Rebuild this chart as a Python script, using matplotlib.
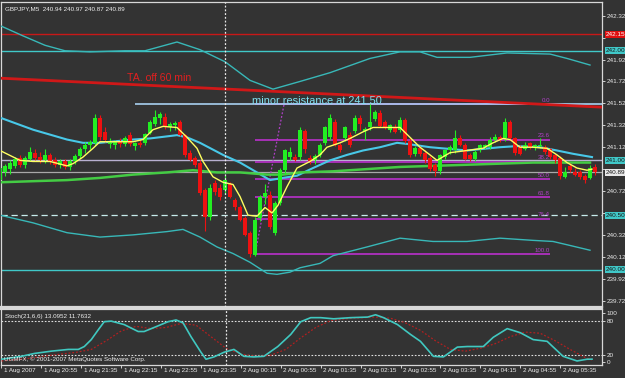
import matplotlib
matplotlib.use('Agg')
import matplotlib.pyplot as plt
import matplotlib.transforms as mtrans

plt.rcParams['font.family'] = ['Liberation Sans', 'DejaVu Sans']

# ---------------- data ----------------
title = "GBPJPY,M5  240.94 240.97 240.87 240.89"
opens = [240.82, 240.89, 240.92, 240.95, 241.02, 240.96, 241.01, 241.07, 241.03, 241.00,
         241.05, 241.00, 240.96, 240.99, 240.94, 240.99, 241.04, 241.10, 241.14, 241.16,
         241.39, 241.26, 241.15, 241.14, 241.17, 241.15, 241.23, 241.13, 241.16, 241.16,
         241.25, 241.33, 241.39, 241.40, 241.30, 241.32, 241.35, 241.23, 241.07, 241.02,
         240.98, 240.73, 240.48, 240.79, 240.75, 240.73, 240.78, 240.64, 240.57, 240.47,
         240.34, 240.14, 240.47, 240.67, 240.68, 240.34, 240.61, 240.91, 241.03, 241.03,
         241.03, 241.27, 241.02, 241.00, 241.05, 241.16, 241.21, 241.35, 241.14, 241.20,
         241.23, 241.27, 241.39, 241.27, 241.30, 241.38, 241.43, 241.35, 241.28, 241.30,
         241.28, 241.37, 241.18, 241.06, 241.11, 241.07, 241.02, 240.96, 240.90, 241.03,
         241.09, 241.09, 241.20, 241.14, 241.05, 241.01, 241.10, 241.12, 241.12, 241.19,
         241.21, 241.20, 241.35, 241.20, 241.12, 241.10, 241.16, 241.11, 241.13, 241.12,
         241.10, 241.05, 241.02, 240.85, 240.95, 240.89, 240.89, 240.86, 240.84, 240.94]
highs = [240.95, 240.97, 241.00, 241.03, 241.05, 241.04, 241.12, 241.10, 241.08, 241.10,
         241.07, 241.03, 241.01, 241.01, 241.01, 241.06, 241.12, 241.17, 241.19, 241.42,
         241.41, 241.30, 241.20, 241.19, 241.20, 241.22, 241.26, 241.17, 241.19, 241.25,
         241.37, 241.46, 241.44, 241.43, 241.35, 241.36, 241.37, 241.24, 241.09, 241.04,
         241.00, 240.75, 240.78, 240.82, 240.78, 240.87, 240.80, 240.66, 240.59, 240.49,
         240.36, 240.48, 240.68, 240.78, 240.72, 240.63, 240.93, 241.10, 241.12, 241.06,
         241.30, 241.29, 241.05, 241.06, 241.16, 241.31, 241.42, 241.38, 241.16, 241.31,
         241.26, 241.41, 241.41, 241.30, 241.51, 241.46, 241.46, 241.37, 241.33, 241.33,
         241.40, 241.39, 241.20, 241.13, 241.13, 241.09, 241.04, 240.98, 241.06, 241.10,
         241.14, 241.28, 241.23, 241.16, 241.07, 241.09, 241.15, 241.15, 241.21, 241.24,
         241.23, 241.39, 241.37, 241.21, 241.14, 241.17, 241.17, 241.15, 241.20, 241.14,
         241.11, 241.06, 241.04, 240.94, 240.98, 240.93, 240.91, 240.88, 240.96, 240.97]
lows = [240.80, 240.86, 240.88, 240.93, 240.94, 240.93, 240.99, 241.00, 240.98, 240.98,
        240.97, 240.94, 240.93, 240.92, 240.91, 240.97, 241.02, 241.07, 241.10, 241.14,
        241.19, 241.17, 241.11, 241.10, 241.12, 241.13, 241.13, 241.09, 241.12, 241.14,
        241.24, 241.31, 241.33, 241.29, 241.27, 241.28, 241.22, 241.03, 240.99, 240.94,
        240.68, 240.36, 240.46, 240.68, 240.64, 240.70, 240.66, 240.55, 240.45, 240.31,
        240.12, 240.13, 240.45, 240.60, 240.37, 240.32, 240.59, 240.88, 241.00, 240.99,
        241.00, 241.07, 240.97, 240.97, 241.03, 241.14, 241.19, 241.13, 241.08, 241.18,
        241.12, 241.25, 241.28, 241.19, 241.28, 241.36, 241.30, 241.29, 241.26, 241.25,
        241.26, 241.16, 241.03, 241.04, 241.04, 240.98, 240.90, 240.86, 240.88, 241.01,
        241.06, 241.07, 241.13, 241.00, 240.99, 240.99, 241.08, 241.10, 241.10, 241.17,
        241.17, 241.18, 241.19, 241.05, 241.05, 241.09, 241.10, 241.09, 241.11, 241.06,
        241.01, 240.98, 240.83, 240.84, 240.89, 240.86, 240.83, 240.79, 240.83, 240.87]
closes = [240.93, 240.95, 240.98, 241.01, 240.96, 241.02, 241.08, 241.02, 241.00, 241.05,
          240.99, 240.96, 240.99, 240.94, 240.99, 241.04, 241.10, 241.14, 241.17, 241.39,
          241.21, 241.19, 241.17, 241.17, 241.15, 241.20, 241.15, 241.16, 241.14, 241.24,
          241.35, 241.40, 241.42, 241.31, 241.33, 241.34, 241.23, 241.05, 241.00, 240.96,
          240.70, 240.48, 240.75, 240.71, 240.67, 240.82, 240.67, 240.57, 240.46, 240.32,
          240.15, 240.46, 240.67, 240.70, 240.39, 240.61, 240.91, 241.09, 241.08, 241.00,
          241.28, 241.10, 240.99, 241.04, 241.14, 241.30, 241.39, 241.14, 241.09, 241.30,
          241.14, 241.39, 241.33, 241.29, 241.35, 241.44, 241.31, 241.30, 241.32, 241.26,
          241.37, 241.18, 241.05, 241.11, 241.06, 241.00, 240.92, 240.90, 241.05, 241.09,
          241.12, 241.20, 241.14, 241.01, 241.01, 241.08, 241.14, 241.14, 241.19, 241.21,
          241.19, 241.35, 241.20, 241.07, 241.06, 241.14, 241.12, 241.14, 241.14, 241.08,
          241.03, 241.00, 240.86, 240.89, 240.91, 240.87, 240.85, 240.82, 240.93, 240.89]

# indicator lines (bar index, price)
ub_x = [0, 4.4, 9, 13, 18, 25, 29, 35.4, 40, 45, 50, 54.6, 60, 66, 74, 80, 84, 87.4, 94, 101.4, 110, 113.4, 118]
ub_y = [242.23, 242.14, 242.05, 242.00, 241.99, 242.00, 242.00, 242.08, 242.01, 241.90, 241.73, 241.65,
        241.72, 241.80, 241.93, 241.99, 241.99, 241.94, 241.94, 241.98, 241.97, 241.93, 241.87]
mid_x = [0, 6.6, 13.4, 16.6, 20, 26.6, 30, 35.4, 37.4, 40, 44.6, 48, 51.4, 54, 56.6, 59.4, 62.6, 66,
         69.4, 72.6, 76, 79.4, 81.4, 86, 93.4, 100, 103.4, 108, 111.4, 114.6, 118.4]
mid_y = [241.39, 241.28, 241.19, 241.16, 241.16, 241.19, 241.20, 241.23, 241.21, 241.16, 241.05, 240.98,
         240.89, 240.82, 240.84, 240.86, 240.93, 241.00, 241.05, 241.09, 241.12, 241.16, 241.15, 241.12,
         241.09, 241.12, 241.13, 241.12, 241.09, 241.06, 241.03]
lb_x = [0, 6.6, 13.4, 20, 26.6, 33.4, 36.6, 40, 43.4, 46.6, 50, 53.4, 55.4, 58, 60, 64, 66.6, 73.4,
        80, 86.6, 93.4, 100, 106.6, 110.6, 113.4, 118]
lb_y = [240.50, 240.43, 240.34, 240.30, 240.32, 240.35, 240.37, 240.30, 240.21, 240.15, 240.07, 239.97,
        239.96, 239.98, 240.02, 240.06, 240.13, 240.21, 240.29, 240.26, 240.26, 240.29, 240.27, 240.26,
        240.23, 240.18]
fast_x = [0, 4, 6.6, 10, 13.4, 14.6, 16.6, 18.6, 20, 23.4, 26.6, 28.6, 30.6, 32.6, 35.4, 37.4, 39.4,
          40.6, 42.6, 44.6, 46.6, 48, 49.6, 51.4, 53, 54.4, 55.6, 57.4, 59.4, 62, 64, 65.4, 68, 70,
          72.6, 74.6, 76.6, 80, 82, 84, 86, 87.4, 90, 93.4, 96.6, 98.6, 100.6, 102, 104, 106.6, 109.4,
          111.4, 113.4, 115.4, 117.4, 118.4]
fast_y = [241.09, 241.00, 240.99, 240.99, 240.95, 240.97, 241.03, 241.11, 241.17, 241.17, 241.17, 241.19,
          241.28, 241.31, 241.30, 241.21, 241.11, 240.99, 240.85, 240.80, 240.78, 240.67, 240.50, 240.49,
          240.57, 240.52, 240.59, 240.76, 240.93, 240.99, 241.05, 241.12, 241.16, 241.20, 241.26, 241.30,
          241.30, 241.30, 241.21, 241.12, 241.05, 241.00, 241.07, 241.09, 241.11, 241.16, 241.20, 241.19,
          241.12, 241.12, 241.11, 241.05, 240.98, 240.93, 240.91, 240.92]
slow_x = [0, 6.6, 13.4, 20, 26.6, 33.4, 38.6, 43.4, 48, 53.4, 56.6, 60, 66.6, 80, 93.4, 106.6, 118]
slow_y = [240.80, 240.81, 240.82, 240.84, 240.87, 240.89, 240.91, 240.89, 240.89, 240.87, 240.87, 240.89,
          240.90, 240.94, 240.96, 240.98, 240.98]

# stochastic (bar index, value)
st_x = [0, 4, 6.6, 10, 13.4, 15.4, 16.6, 18, 19.4, 20.6, 22, 24.6, 27.4, 28.6, 30.6, 33.4, 35, 36.4, 38,
        40, 41, 42.6, 44.6, 46.6, 48.6, 50.6, 52.6, 55.4, 58, 60, 62, 64, 66.6, 70, 73.4, 75, 76.6,
        79.4, 82, 84, 86.6, 88.6, 91.4, 93.4, 96.6, 98.6, 101.4, 104, 106.6, 109.4, 112.6, 115.4,
        117.4, 118.4]
st_main = [13, 18, 23, 27, 30, 30, 35, 47, 64, 78, 79, 73, 61, 61, 68, 78, 81, 76, 52, 25, 13, 17, 25,
           30, 18, 17, 18, 35, 56, 78, 85, 85, 83, 85, 86, 90, 85, 73, 56, 44, 18, 17, 34, 35, 35, 51,
           66, 59, 47, 44, 18, 10, 13, 13.1]
sg_x = [0, 5, 10, 15, 18, 21, 24, 27, 30, 33, 36, 39, 42, 45, 48, 51, 54, 57, 60, 63, 66, 70, 75, 78,
        81, 84, 87, 90, 93, 96, 99, 102, 105, 108, 111, 114, 117, 118.4]
st_sig = [10, 14, 20, 25, 30, 45, 62, 70, 66, 68, 75, 72, 52, 32, 22, 18, 20, 30, 50, 68, 80, 84, 86,
          84, 76, 63, 45, 30, 27, 32, 40, 52, 60, 58, 45, 30, 16, 11.8]

date_labels = ["1 Aug 2007", "1 Aug 20:55", "1 Aug 21:35", "1 Aug 22:15", "1 Aug 22:55",
               "1 Aug 23:35", "2 Aug 00:15", "2 Aug 00:55", "2 Aug 01:35", "2 Aug 02:15",
               "2 Aug 02:55", "2 Aug 03:35", "2 Aug 04:15", "2 Aug 04:55", "2 Aug 05:35"]
date_pos = [0, 8, 16, 24, 32, 40, 48, 56, 64, 72, 80, 88, 96, 104, 112]
price_ticks = [239.72, 239.92, 240.12, 240.32, 240.52, 240.72, 240.92, 241.12, 241.32, 241.52,
               241.72, 241.92, 242.12, 242.32]
hidden_ticks = [240.52, 240.92, 242.12]   # covered by the price-line labels

fib_levels = ["0.0", "23.6", "38.2", "50.0", "61.8", "76.4", "100.0"]
fib_ratio = [0.0, 0.236, 0.382, 0.5, 0.618, 0.764, 1.0]
fib_high = 241.51
fib_low = 240.145

red_level = 242.15
bid = 240.89
resist = 241.51
trend_x = [0, 120.6]
trend_y = [241.75, 241.485]

# ---------------- figure ----------------
BG = '#333333'
W, H = 625, 378
fig = plt.figure(figsize=(W / 100, H / 100), dpi=100, facecolor=BG)
L, R = 1.5, 602
ax = fig.add_axes([L / W, (H - 307) / H, (R - L) / W, 305 / H], facecolor=BG)
sx = fig.add_axes([L / W, (H - 365) / H, (R - L) / W, 56 / H], facecolor=BG)

x0 = L / 5.0
x1 = R / 5.0
for a in (ax, sx):
    a.set_xlim(x0, x1)
    for s in a.spines.values():
        s.set_color('#d8d8d8')
        s.set_linewidth(0.9)
ax.spines['bottom'].set_linewidth(1.6)
sx.spines['top'].set_linewidth(1.6)
ax.set_ylim(239.662, 242.445)
sx.set_ylim(3, 100)

# candles
n = len(opens)
for i in range(n):
    o, h, l, c = opens[i], highs[i], lows[i], closes[i]
    col = '#22ee22' if c >= o else '#ee1111'
    ax.vlines(i, l, h, color=col, lw=0.8, zorder=5)
    ax.bar(i, max(abs(c - o), 0.006), bottom=min(o, c), width=0.62, color=col, lw=0, zorder=6)

# horizontal levels
ax.axhline(red_level, color='#c81818', lw=1.0, zorder=2)
ax.axhline(242.00, color='#40c8c8', lw=1.0, zorder=2)
ax.axhline(241.00, color='#b8b0d0', lw=1.0, zorder=2)
ax.axhline(bid, color='#a8a8a8', lw=0.9, zorder=2)
ax.axhline(240.50, color='#c8ecec', lw=0.9, ls=(0, (5, 3)), zorder=2)
ax.axhline(240.00, color='#40c8c8', lw=1.0, zorder=2)
ax.hlines(resist, 27, x1, color='#a8d0f0', lw=1.2, zorder=4)

# fibonacci
for lab, r in zip(fib_levels, fib_ratio):
    p = fib_high - r * (fib_high - fib_low)
    ax.hlines(p, 51, 110, color='#b030c0', lw=1.3, zorder=3)
    ax.text(110, p + 0.012, lab, color='#b040c8', fontsize=4.4, ha='right', va='bottom', zorder=7)
ax.plot([51, 56.8], [fib_low, fib_high], color='#b040c8', lw=0.9, ls=(0, (1.5, 1.5)), zorder=3)

# trend line
ax.plot(trend_x, trend_y, color='#d01818', lw=2.0, zorder=4, solid_capstyle='butt')

# indicators
ax.plot(ub_x, ub_y, color='#38b8b8', lw=1.0, zorder=4)
ax.plot(lb_x, lb_y, color='#38b8b8', lw=1.0, zorder=4)
ax.plot(mid_x, mid_y, color='#48c8e8', lw=1.5, zorder=4)
ax.plot(slow_x, slow_y, color='#44cc44', lw=1.8, zorder=4)
ax.plot(fast_x, fast_y, color='#ffff60', lw=1.0, zorder=7)

# period separator
for a in (ax, sx):
    a.axvline(45, color='#e8e8e8', lw=0.9, ls=(0, (1.5, 1.5)), zorder=8)

# texts
ax.text(25.4, 241.75, "TA. off 60 min", color='#e02020', fontsize=7.6, ha='left', va='center', zorder=9)
ax.text(50.4, 241.545, "minor resistance at 241.50", color='#80e0f0', fontsize=7.9,
        ha='left', va='center', zorder=9)
ax.text(0.006, 0.985, title, transform=ax.transAxes, color='#f0f0f0', fontsize=4.5,
        ha='left', va='top', zorder=9)

# right price axis
ax.yaxis.tick_right()
ax.set_yticks(price_ticks)
ax.set_yticklabels(["" if v in hidden_ticks else f"{v:.2f}" for v in price_ticks])
ax.tick_params(axis='y', colors='#e8e8e8', labelsize=4.6, length=2, width=0.6, pad=1.2)
ax.set_xticks([])
tr = mtrans.blended_transform_factory(ax.transAxes, ax.transData)


def box(p, txt, fc, tc):
    ax.text(1.006, p, txt, transform=tr, color=tc, fontsize=4.6, ha='left', va='center', zorder=10,
            clip_on=False, bbox=dict(boxstyle='square,pad=0.15', fc=fc, ec=fc, lw=0))


box(red_level, f"{red_level:.2f}", '#e01010', '#ffffff')
box(242.00, "242.00", '#40c8c8', '#1a1a1a')
box(241.00, "241.00", '#40c8c8', '#1a1a1a')
box(bid, f"{bid:.2f}", '#e8e8e8', '#1a1a1a')
box(240.50, "240.50", '#40c8c8', '#1a1a1a')
box(240.00, "240.00", '#40c8c8', '#1a1a1a')

# stochastic
sx.axhline(80, color='#e0e0e0', lw=0.8, ls=(0, (1.5, 1.5)))
sx.axhline(20, color='#e0e0e0', lw=0.8, ls=(0, (1.5, 1.5)))
sx.plot(sg_x, st_sig, color='#b02020', lw=0.9, ls=(0, (1.5, 1.5)), zorder=3)
sx.plot(st_x, st_main, color='#40c8c0', lw=1.2, zorder=4)
sx.yaxis.tick_right()
sx.set_yticks([93.5, 80, 20, 7.5])
sx.set_yticklabels(["100", "80", "20", "0"])
sx.tick_params(axis='y', colors='#e8e8e8', labelsize=4.6, length=2, width=0.6, pad=1.2)
sx.set_xticks(date_pos)
sx.set_xticklabels([])
sx.tick_params(axis='x', colors='#e8e8e8', length=2.5, width=0.6, direction='out')
trx = mtrans.blended_transform_factory(sx.transData, sx.transAxes)
for p, lab in zip(date_pos, date_labels):
    sx.text(p + 0.5, -0.06, lab, transform=trx, color='#f0f0f0', fontsize=4.5, ha='left', va='top',
            clip_on=False)
sx.text(0.006, 0.86, "Stoch(21,6,6) 13.0952 11.7632", transform=sx.transAxes, color='#f0f0f0',
        fontsize=4.5, ha='left', va='center', zorder=9)
sx.text(0.004, 0.1, "UGMFX, \u00a9 2001-2007 MetaQuotes Software Corp.", transform=sx.transAxes,
        color='#f0f0f0', fontsize=4.5, ha='left', va='center', zorder=9)

fig.savefig('out.png', dpi=100, facecolor=BG)
